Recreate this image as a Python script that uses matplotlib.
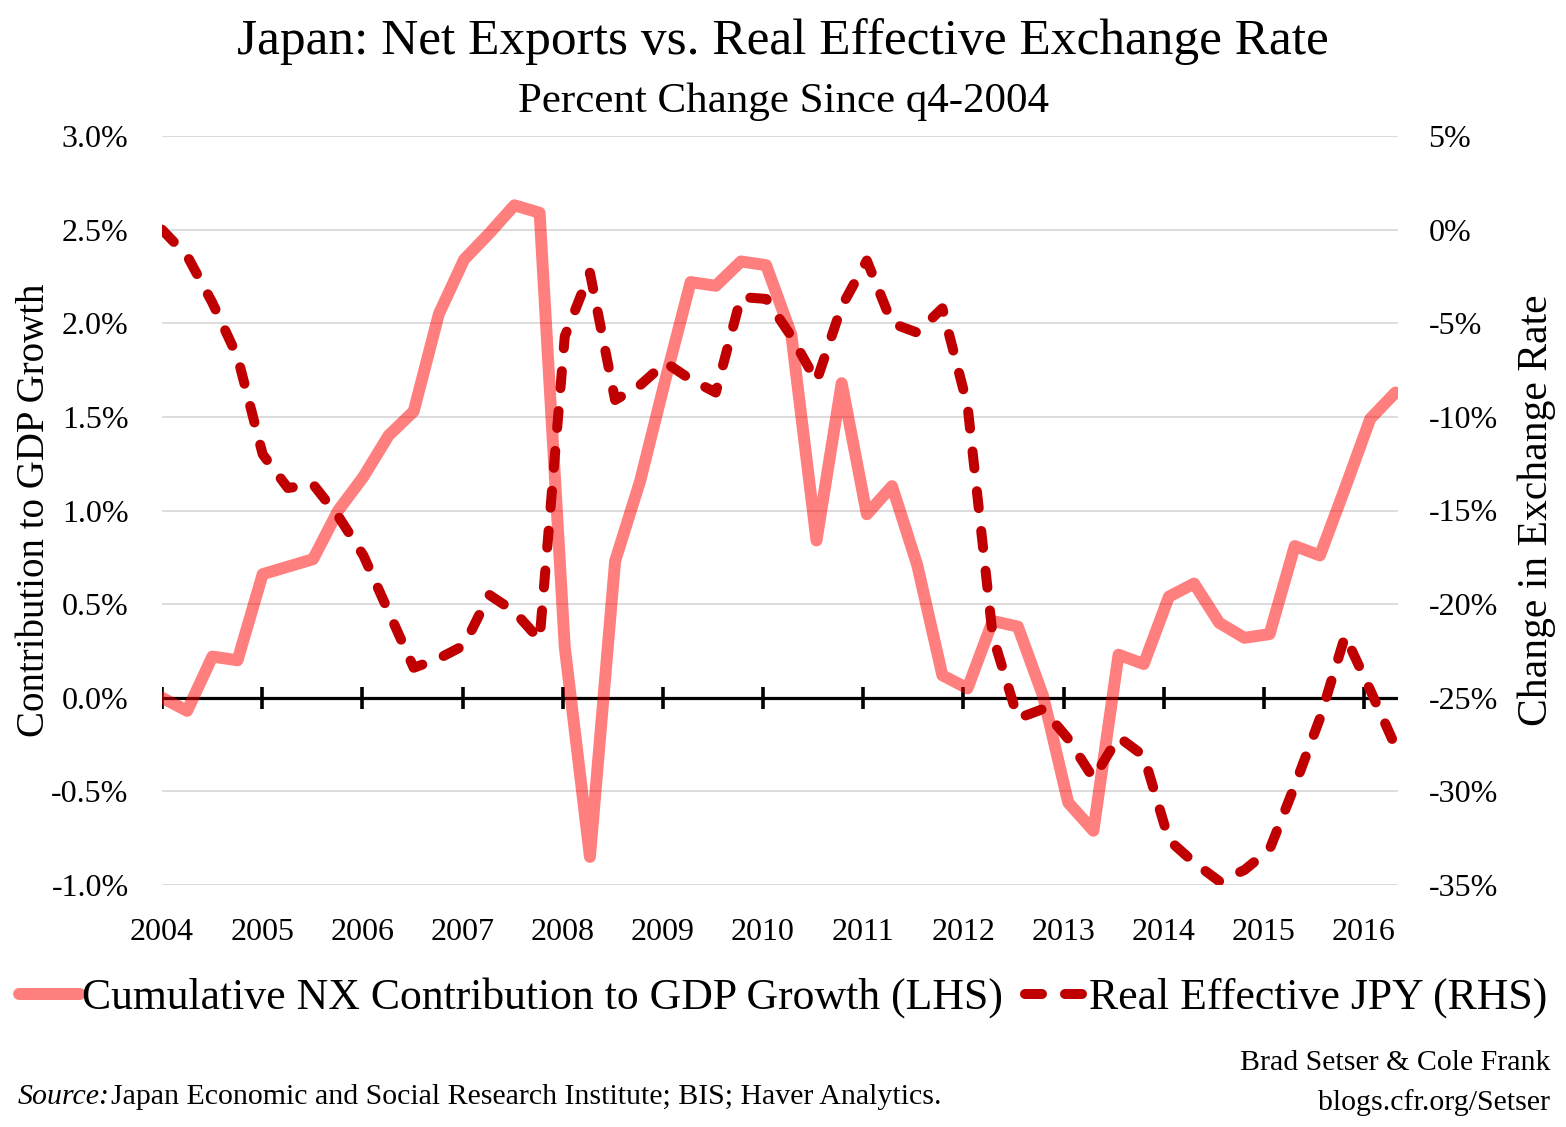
import matplotlib
matplotlib.use("Agg")
import matplotlib.pyplot as plt
from matplotlib.lines import Line2D
import numpy as np

# quarterly, q4-2004 base, running to mid-2016
start_year = 2004
nx_contrib = [0.00, -0.07, 0.22, 0.20, 0.66, 0.70, 0.74, 1.00, 1.18, 1.40,
              1.53, 2.05, 2.34, 2.48, 2.63, 2.59, 0.27, -0.85, 0.73, 1.16,
              1.70, 2.22, 2.20, 2.33, 2.31, 1.94, 0.84, 1.68, 0.98, 1.13,
              0.71, 0.12, 0.05, 0.41, 0.38, 0.01, -0.56, -0.71, 0.23, 0.18,
              0.54, 0.61, 0.40, 0.32, 0.34, 0.81, 0.76, 1.12, 1.49, 1.63]
reer_jpy = [0.0, -1.4, -3.9, -6.8, -12.0, -13.8, -13.6, -15.3, -17.4, -20.4,
            -23.4, -22.9, -22.2, -19.5, -20.4, -21.9, -5.7, -2.3, -9.1, -8.3,
            -7.1, -8.0, -8.7, -3.6, -3.7, -5.7, -8.1, -4.1, -1.65, -5.0,
            -5.5, -4.2, -9.4, -21.7, -26.1, -25.6, -27.2, -29.3, -27.1, -28.1,
            -32.6, -33.8, -34.8, -34.2, -33.1, -29.7, -26.1, -21.7, -24.6, -27.6]
years = list(range(2004, 2017))
left_ticks = [-1.0, -0.5, 0.0, 0.5, 1.0, 1.5, 2.0, 2.5, 3.0]
right_ticks = [-35, -30, -25, -20, -15, -10, -5, 0, 5]

x = start_year + 0.2513 * np.arange(len(nx_contrib))

serif = ["Liberation Serif", "DejaVu Serif"]
plt.rcParams["font.family"] = serif

W, H = 1566, 1127
fig = plt.figure(figsize=(W / 100, H / 100), dpi=100)
ax = fig.add_axes([162 / W, 1 - 885 / H, (1398 - 162) / W, (885 - 136) / H])
ax2 = ax.twinx()

ax.set_xlim(2004, 2004 + (1398 - 162) / 100.17)
ax.set_ylim(-1.0, 3.0)
ax2.set_ylim(-35, 5)

for a in (ax, ax2):
  for s in a.spines.values():
    s.set_visible(False)

ax.set_yticks(left_ticks)
ax.set_yticklabels([f"{v:.1f}%" for v in left_ticks])
ax2.set_yticks(right_ticks)
ax2.set_yticklabels([f"{v}%" for v in right_ticks])
ax.set_xticks(years)
ax.set_xticklabels([str(y) for y in years])
ax.tick_params(axis="x", length=0, pad=24, labelsize=23)
ax.tick_params(axis="y", length=0, pad=24, labelsize=23)
ax2.tick_params(axis="y", length=0, pad=22, labelsize=23)
ax.grid(axis="y", color="#d9d9d9", linewidth=1.3)
ax.set_axisbelow(True)

ax.axhline(0, color="black", linewidth=2.3, zorder=1)
ax.plot(years, np.zeros(len(years)), linestyle="none",
        marker="|", markersize=16, markeredgewidth=2.6, color="black", zorder=1)

ax.plot(x, nx_contrib, color="red", alpha=0.5, linewidth=8.6,
        solid_capstyle="round", solid_joinstyle="round", zorder=3)
ax2.plot(x, reer_jpy, color="#c00000", linewidth=7.2, dashes=(1.7, 2.3),
         dash_capstyle="round", dash_joinstyle="round", zorder=3)

span = 1398 - 162
ax.set_ylabel("Contribution to GDP Growth", fontsize=28, va="center")
ax.yaxis.set_label_coords(-(162 - 35) / span, 0.5)
ax2.set_ylabel("Change in Exchange Rate", fontsize=30, va="center")
ax2.yaxis.set_label_coords(1 + (1537 - 1398) / span, 0.5)

fig.text(0.5, 1 - 42 / H, "Japan: Net Exports vs. Real Effective Exchange Rate",
         ha="center", va="center", fontsize=37)
fig.text(0.5, 1 - 102 / H, "Percent Change Since q4-2004",
         ha="center", va="center", fontsize=31)

handles = [
  Line2D([], [], color="red", alpha=0.5, linewidth=8.6, solid_capstyle="round"),
  Line2D([], [], color="#c00000", linewidth=7.2, dashes=(1.7, 2.3), dash_capstyle="round"),
]
fig.legend(handles, ["Cumulative NX Contribution to GDP Growth (LHS)", "Real Effective JPY (RHS)"],
           loc="center", bbox_to_anchor=(0.5, 1 - 998 / H), ncol=2, frameon=False,
           fontsize=31.5, handlelength=1.4, handletextpad=0.05, columnspacing=0.5,
           borderpad=0, borderaxespad=0)

fig.text(18 / W, 1 - 1097 / H, "Source:", style="italic", fontsize=21.5, va="center")
fig.text(111 / W, 1 - 1097 / H,
         "Japan Economic and Social Research Institute; BIS; Haver Analytics.",
         fontsize=21.5, va="center")
fig.text(1550 / W, 1 - 1063 / H, "Brad Setser & Cole Frank", ha="right",
         va="center", fontsize=21.5)
fig.text(1550 / W, 1 - 1103 / H, "blogs.cfr.org/Setser", ha="right",
         va="center", fontsize=21.5)

fig.savefig("out.png", dpi=100)
